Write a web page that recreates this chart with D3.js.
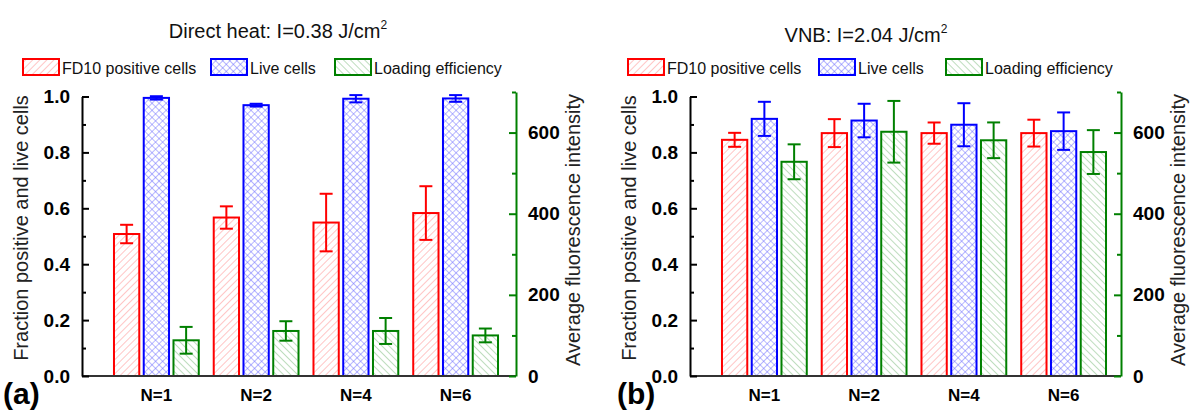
<!DOCTYPE html>
<html>
<head>
<meta charset="utf-8">
<script src="https://cdn.jsdelivr.net/npm/d3@7"></script>
<style>
body { margin: 0; background: #fff; }
svg text { font-family: "Liberation Sans", Arial, sans-serif; }
</style>
</head>
<body>
<svg id="chart" width="1194" height="411"></svg>
<script>
var categories = ['N=1', 'N=2', 'N=4', 'N=6'];
var seriesNames = ['FD10 positive cells', 'Live cells', 'Loading efficiency'];
var fracTicks = [0, 0.2, 0.4, 0.6, 0.8, 1.0];
var fracMinor = [0.1, 0.3, 0.5, 0.7, 0.9];
var mfiTicks = [0, 200, 400, 600];
var mfiMinor = [100, 300, 500, 700];

// (a) direct heat
var heatFD10 = [0.508, 0.567, 0.549, 0.583];
var heatFD10Err = [0.033, 0.040, 0.103, 0.096];
var heatLive = [0.995, 0.969, 0.992, 0.993];
var heatLiveErr = [0.006, 0.005, 0.013, 0.012];
var heatLoad = [88, 111, 111, 100];
var heatLoadErr = [33, 24, 32, 17];

// (b) VNB
var vnbFD10 = [0.845, 0.869, 0.869, 0.869];
var vnbFD10Err = [0.025, 0.050, 0.038, 0.048];
var vnbLive = [0.920, 0.914, 0.899, 0.876];
var vnbLiveErr = [0.061, 0.060, 0.077, 0.067];
var vnbLoad = [528, 602, 581, 552];
var vnbLoadErr = [43, 76, 44, 54];

var colors = ['#ff0000', '#0000ff', '#008000'];
var hatchColors = ['#ff8c8c', '#6f6fff', '#7dbb7d'];

var svg = d3.select('#chart');
var defs = svg.append('defs');

function addHatch(id, color, angle, cross) {
	var p = defs.append('pattern').attr('id', id)
		.attr('patternUnits', 'userSpaceOnUse')
		.attr('width', 5).attr('height', 5)
		.attr('patternTransform', 'rotate(' + angle + ')');
	p.append('rect').attr('width', 5).attr('height', 5).attr('fill', '#fff');
	p.append('line').attr('x1', 0).attr('y1', 0).attr('x2', 0).attr('y2', 5)
		.attr('stroke', color).attr('stroke-width', 1);
	if (cross) {
		p.append('line').attr('x1', 0).attr('y1', 0).attr('x2', 5).attr('y2', 0)
			.attr('stroke', color).attr('stroke-width', 1);
	}
}
addHatch('hatch0', hatchColors[0], 45, false);
addHatch('hatch1', hatchColors[1], 45, true);
addHatch('hatch2', hatchColors[2], -45, false);

var panels = [
	{ letter: '(a)', letterX: 3, title: 'Direct heat: I=0.38 J/cm', titleX: 278, titleY: 38,
	  x0: 82, x1: 516, legendX: [23, 211, 335], legendY: 59,
	  vals: [heatFD10, heatLive, heatLoad], errs: [heatFD10Err, heatLiveErr, heatLoadErr] },
	{ letter: '(b)', letterX: 617, title: 'VNB: I=2.04 J/cm', titleX: 866, titleY: 42,
	  x0: 690, x1: 1121, legendX: [628, 819, 946], legendY: 59,
	  vals: [vnbFD10, vnbLive, vnbLoad], errs: [vnbFD10Err, vnbLiveErr, vnbLoadErr] }
];

var base = 376;
var font = '"Liberation Sans", Arial, sans-serif';

function drawPanel(p) {
	var g = svg.append('g');

	var x = d3.scaleBand().domain(categories)
		.range([p.x0 + 24.5, p.x0 + 24.5 + 399])
		.paddingInner(0.15).paddingOuter(0.075);
	var xs = d3.scaleBand().domain(seriesNames).range([0, x.bandwidth()]).paddingInner(0.15);
	var yL = d3.scaleLinear().domain([0, 1]).range([base, 96.5]);
	var yR = d3.scaleLinear().domain([0, 700]).range([base, 92]);
	var yOf = [yL, yL, yR];

	// bars
	seriesNames.forEach(function (name, s) {
		var y = yOf[s];
		var sg = g.append('g');
		sg.selectAll('rect').data(p.vals[s]).enter().append('rect')
			.attr('x', function (d, i) { return x(categories[i]) + xs(name); })
			.attr('y', function (d) { return y(d); })
			.attr('width', xs.bandwidth())
			.attr('height', function (d) { return base - y(d); })
			.attr('fill', 'url(#hatch' + s + ')')
			.attr('stroke', colors[s]).attr('stroke-width', 2);

		var errs = p.errs[s];
		var eg = sg.selectAll('g.err').data(p.vals[s]).enter().append('g')
			.attr('stroke', colors[s]).attr('stroke-width', 2);
		eg.each(function (d, i) {
			var cx = x(categories[i]) + xs(name) + xs.bandwidth() / 2;
			var t = y(d + errs[i]), b = y(d - errs[i]);
			var e = d3.select(this);
			e.append('line').attr('x1', cx).attr('x2', cx).attr('y1', t).attr('y2', b);
			e.append('line').attr('x1', cx - 6.5).attr('x2', cx + 6.5).attr('y1', t).attr('y2', t);
			e.append('line').attr('x1', cx - 6.5).attr('x2', cx + 6.5).attr('y1', b).attr('y2', b);
		});
	});

	// bottom axis line and labels
	g.append('line').attr('x1', p.x0).attr('x2', p.x1).attr('y1', base).attr('y2', base)
		.attr('stroke', '#333').attr('stroke-width', 2);
	var xa = g.append('g').attr('transform', 'translate(0,' + base + ')')
		.call(d3.axisBottom(x).tickSize(0).tickPadding(13));
	xa.select('.domain').remove();
	xa.selectAll('text').attr('font-size', 17).attr('font-weight', 'bold')
		.attr('fill', '#000').style('font-family', font);

	// left axis
	var la = g.append('g').attr('transform', 'translate(' + p.x0 + ',0)')
		.call(d3.axisLeft(yL).tickValues(fracTicks).tickSize(-7).tickSizeOuter(0).tickPadding(12)
			.tickFormat(d3.format('.1f')));
	var lm = g.append('g').attr('transform', 'translate(' + p.x0 + ',0)')
		.call(d3.axisLeft(yL).tickValues(fracMinor).tickSize(-4).tickSizeOuter(0).tickFormat(''));
	lm.select('.domain').remove();
	la.selectAll('.tick line').attr('stroke', '#000').attr('stroke-width', 2);
	lm.selectAll('.tick line').attr('stroke', '#000').attr('stroke-width', 2);
	la.select('.domain').attr('stroke', '#000').attr('stroke-width', 2);
	la.selectAll('text').attr('font-size', 19).attr('font-weight', 'bold').attr('fill', '#000')
		.style('font-family', font);

	// right axis (green)
	var ra = g.append('g').attr('transform', 'translate(' + p.x1 + ',0)')
		.call(d3.axisRight(yR).tickValues(mfiTicks).tickSize(-7).tickSizeOuter(0).tickPadding(12));
	var rm = g.append('g').attr('transform', 'translate(' + p.x1 + ',0)')
		.call(d3.axisRight(yR).tickValues(mfiMinor).tickSize(-4).tickSizeOuter(0).tickFormat(''));
	rm.select('.domain').remove();
	ra.selectAll('.tick line').attr('stroke', colors[2]).attr('stroke-width', 2);
	rm.selectAll('.tick line').attr('stroke', colors[2]).attr('stroke-width', 2);
	ra.select('.domain').attr('stroke', colors[2]).attr('stroke-width', 2);
	ra.selectAll('text').attr('font-size', 19).attr('font-weight', 'bold').attr('fill', '#000')
		.style('font-family', font);

	// axis titles
	g.append('text').attr('transform', 'translate(' + (p.x0 - 61) + ',228) rotate(-90)')
		.attr('text-anchor', 'middle').attr('dy', '0.35em').attr('font-size', 20).attr('fill', '#222')
		.text('Fraction positive and live cells');
	g.append('text').attr('transform', 'translate(' + (p.x1 + 57) + ',230) rotate(-90)')
		.attr('text-anchor', 'middle').attr('dy', '0.35em').attr('font-size', 20).attr('fill', '#222')
		.text('Average fluorescence intensity');

	// title
	var t = g.append('text').attr('x', p.titleX).attr('y', p.titleY)
		.attr('text-anchor', 'middle').attr('font-size', 20).attr('fill', '#111');
	t.append('tspan').text(p.title);
	t.append('tspan').attr('dy', -9).attr('font-size', 12).text('2');

	// legend
	seriesNames.forEach(function (name, s) {
		var lx = p.legendX[s];
		g.append('rect').attr('x', lx).attr('y', p.legendY).attr('width', 36).attr('height', 16)
			.attr('fill', 'url(#hatch' + s + ')').attr('stroke', colors[s]).attr('stroke-width', 2);
		g.append('text').attr('x', lx + 39).attr('y', p.legendY + 14.5)
			.attr('font-size', 16).attr('fill', '#111').text(name);
	});

	// panel letter
	g.append('text').attr('x', p.letterX).attr('y', 404).attr('font-size', 30)
		.attr('font-weight', 'bold').attr('fill', '#000').text(p.letter);
}

panels.forEach(drawPanel);
</script>
</body>
</html>
